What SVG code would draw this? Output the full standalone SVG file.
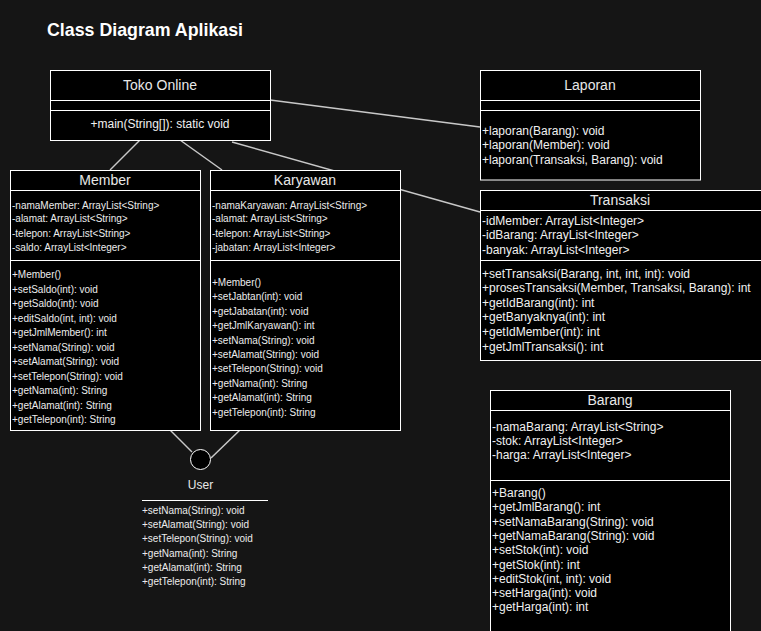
<svg xmlns="http://www.w3.org/2000/svg" width="761" height="631" viewBox="0 0 761 631">
<style>
.box{fill:#000;stroke:#fff;stroke-width:1}
.div{stroke:#fff;stroke-width:1}
.hd{font-family:"Liberation Sans",Arial,sans-serif;font-size:14px;fill:#e8e8e8;text-anchor:middle}
.t12{font-family:"Liberation Sans",Arial,sans-serif;font-size:12px;fill:#f0f0f0}
.t10{font-family:"Liberation Sans",Arial,sans-serif;font-size:10px;fill:#ececec}
.conn{stroke:#c8c8c8;stroke-width:1.5;fill:none}
</style>
<rect width="761" height="631" fill="#151515"/>
<text x="47" y="36" font-family="Liberation Sans,Arial,sans-serif" font-size="17.8" font-weight="bold" fill="#fff">Class Diagram Aplikasi</text>
<g id="connectors">
<line class="conn" x1="140" y1="140" x2="110" y2="170"/>
<line class="conn" x1="180" y1="140" x2="222" y2="170"/>
<line class="conn" x1="232" y1="142" x2="480" y2="212"/>
<line class="conn" x1="270" y1="100" x2="480" y2="127"/>
<line class="conn" x1="170" y1="430" x2="192" y2="452"/>
<line class="conn" x1="240" y1="430" x2="211" y2="458"/>
</g>
<g id="toko-online">
<rect class="box" x="50.5" y="70.5" width="220" height="70"/>
<line class="div" x1="50.5" y1="100.5" x2="270.5" y2="100.5"/>
<line class="div" x1="50.5" y1="110.5" x2="270.5" y2="110.5"/>
<text class="hd" x="160" y="90">Toko Online</text>
<text class="t12" x="160" y="128" text-anchor="middle">+main(String[]): static void</text>
</g>
<g id="laporan">
<rect class="box" x="480.5" y="70.5" width="220" height="109.5"/>
<line class="div" x1="480.5" y1="100.5" x2="700.5" y2="100.5"/>
<line class="div" x1="480.5" y1="110.5" x2="700.5" y2="110.5"/>
<text class="hd" x="590" y="90">Laporan</text>
<text class="t12" x="482" y="135">+laporan(Barang): void</text>
<text class="t12" x="482" y="149">+laporan(Member): void</text>
<text class="t12" x="482" y="163.5">+laporan(Transaksi, Barang): void</text>
</g>
<g id="member">
<rect class="box" x="10.5" y="170.5" width="190" height="260"/>
<line class="div" x1="10.5" y1="190.5" x2="200.5" y2="190.5"/>
<line class="div" x1="10.5" y1="260.5" x2="200.5" y2="260.5"/>
<text class="hd" x="105" y="185">Member</text>
<text class="t10" x="12" y="208.5">-namaMember: ArrayList&lt;String&gt;</text>
<text class="t10" x="12" y="222">-alamat: ArrayList&lt;String&gt;</text>
<text class="t10" x="12" y="236.5">-telepon: ArrayList&lt;String&gt;</text>
<text class="t10" x="12" y="250.5">-saldo: ArrayList&lt;Integer&gt;</text>
<text class="t10" x="12" y="278">+Member()</text>
<text class="t10" x="12" y="292.5">+setSaldo(int): void</text>
<text class="t10" x="12" y="307">+getSaldo(int): void</text>
<text class="t10" x="12" y="321.5">+editSaldo(int, int): void</text>
<text class="t10" x="12" y="336">+getJmlMember(): int</text>
<text class="t10" x="12" y="350.5">+setNama(String): void</text>
<text class="t10" x="12" y="365">+setAlamat(String): void</text>
<text class="t10" x="12" y="379.5">+setTelepon(String): void</text>
<text class="t10" x="12" y="394">+getNama(int): String</text>
<text class="t10" x="12" y="408.5">+getAlamat(int): String</text>
<text class="t10" x="12" y="422.5">+getTelepon(int): String</text>
</g>
<g id="karyawan">
<rect class="box" x="210.5" y="170.5" width="190" height="260"/>
<line class="div" x1="210.5" y1="190.5" x2="400.5" y2="190.5"/>
<line class="div" x1="210.5" y1="260.5" x2="400.5" y2="260.5"/>
<text class="hd" x="305" y="185">Karyawan</text>
<text class="t10" x="212" y="208.5">-namaKaryawan: ArrayList&lt;String&gt;</text>
<text class="t10" x="212" y="222">-alamat: ArrayList&lt;String&gt;</text>
<text class="t10" x="212" y="236.5">-telepon: ArrayList&lt;String&gt;</text>
<text class="t10" x="212" y="250.5">-jabatan: ArrayList&lt;Integer&gt;</text>
<text class="t10" x="212" y="286">+Member()</text>
<text class="t10" x="212" y="300.4">+setJabtan(int): void</text>
<text class="t10" x="212" y="314.8">+getJabatan(int): void</text>
<text class="t10" x="212" y="329.2">+getJmlKaryawan(): int</text>
<text class="t10" x="212" y="343.6">+setNama(String): void</text>
<text class="t10" x="212" y="358">+setAlamat(String): void</text>
<text class="t10" x="212" y="372.4">+setTelepon(String): void</text>
<text class="t10" x="212" y="386.8">+getNama(int): String</text>
<text class="t10" x="212" y="401.2">+getAlamat(int): String</text>
<text class="t10" x="212" y="415.6">+getTelepon(int): String</text>
</g>
<g id="transaksi">
<rect class="box" x="480.5" y="190.5" width="290" height="170"/>
<line class="div" x1="480.5" y1="210.5" x2="770" y2="210.5"/>
<line class="div" x1="480.5" y1="260.5" x2="770" y2="260.5"/>
<text class="hd" x="620" y="205">Transaksi</text>
<text class="t12" x="482" y="225">-idMember: ArrayList&lt;Integer&gt;</text>
<text class="t12" x="482" y="239">-idBarang: ArrayList&lt;Integer&gt;</text>
<text class="t12" x="482" y="253.5">-banyak: ArrayList&lt;Integer&gt;</text>
<text class="t12" x="482" y="277.5">+setTransaksi(Barang, int, int, int): void</text>
<text class="t12" x="482" y="292.1">+prosesTransaksi(Member, Transaksi, Barang): int</text>
<text class="t12" x="482" y="306.7">+getIdBarang(int): int</text>
<text class="t12" x="482" y="321.3">+getBanyaknya(int): int</text>
<text class="t12" x="482" y="335.9">+getIdMember(int): int</text>
<text class="t12" x="482" y="350.5">+getJmlTransaksi(): int</text>
</g>
<g id="barang">
<rect class="box" x="490.5" y="390.5" width="240" height="250"/>
<line class="div" x1="490.5" y1="410.5" x2="730.5" y2="410.5"/>
<line class="div" x1="490.5" y1="480.5" x2="730.5" y2="480.5"/>
<text class="hd" x="610" y="405">Barang</text>
<text class="t12" x="492" y="430.5">-namaBarang: ArrayList&lt;String&gt;</text>
<text class="t12" x="492" y="444.5">-stok: ArrayList&lt;Integer&gt;</text>
<text class="t12" x="492" y="459">-harga: ArrayList&lt;Integer&gt;</text>
<text class="t12" x="492" y="497">+Barang()</text>
<text class="t12" x="492" y="511.3">+getJmlBarang(): int</text>
<text class="t12" x="492" y="525.6">+setNamaBarang(String): void</text>
<text class="t12" x="492" y="539.9">+getNamaBarang(String): void</text>
<text class="t12" x="492" y="554.2">+setStok(int): void</text>
<text class="t12" x="492" y="568.5">+getStok(int): int</text>
<text class="t12" x="492" y="582.8">+editStok(int, int): void</text>
<text class="t12" x="492" y="597.1">+setHarga(int): void</text>
<text class="t12" x="492" y="611.4">+getHarga(int): int</text>
</g>
<g id="user">
<circle cx="200.5" cy="459.5" r="10" fill="#000" stroke="#fff" stroke-width="1"/>
<text x="200.5" y="489" font-family="Liberation Sans,Arial,sans-serif" font-size="12" fill="#e8e8e8" text-anchor="middle">User</text>
<line class="div" x1="142" y1="500.5" x2="268" y2="500.5"/>
<text class="t10" x="142" y="513.5">+setNama(String): void</text>
<text class="t10" x="142" y="527.8">+setAlamat(String): void</text>
<text class="t10" x="142" y="542.1">+setTelepon(String): void</text>
<text class="t10" x="142" y="556.9">+getNama(int): String</text>
<text class="t10" x="142" y="571.2">+getAlamat(int): String</text>
<text class="t10" x="142" y="585.2">+getTelepon(int): String</text>
</g>
</svg>
